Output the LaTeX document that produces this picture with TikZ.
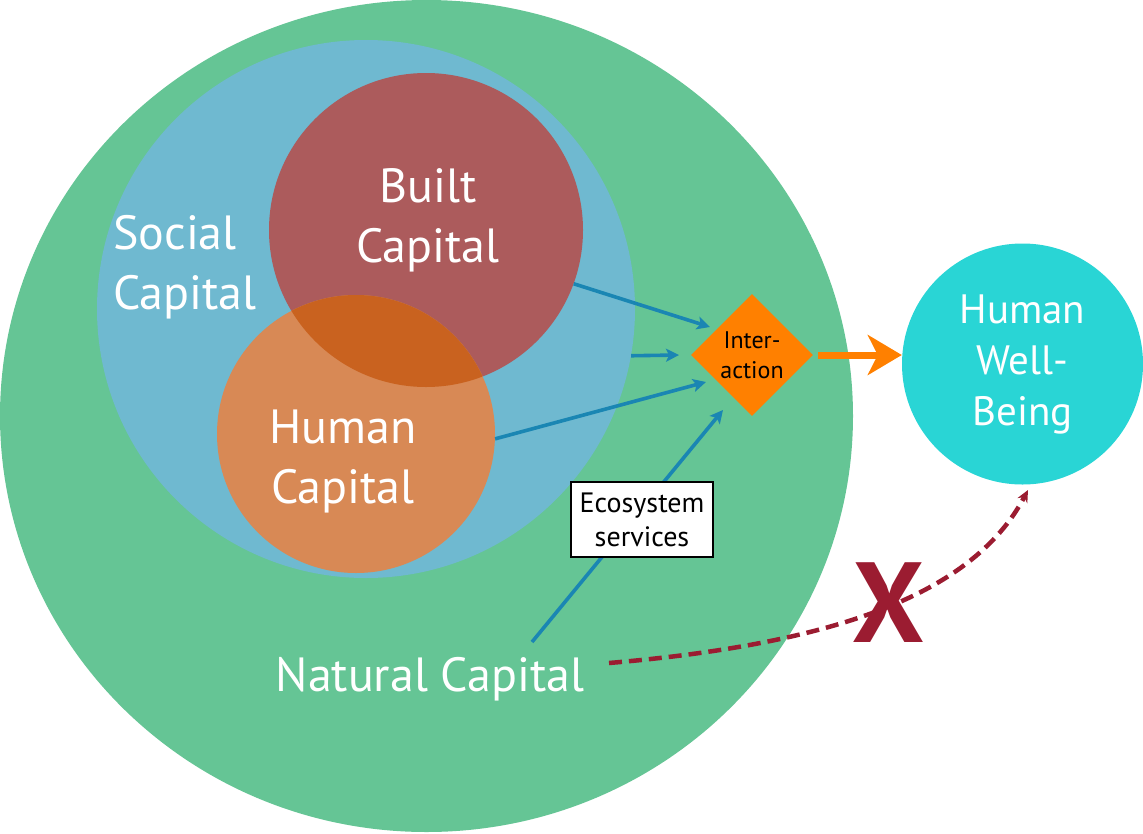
\documentclass[tikz,border=0pt]{standalone}
\usepackage{fontspec}
\setmainfont{PT Sans}
\usetikzlibrary{shapes.geometric,arrows.meta}
\definecolor{natgreen}{HTML}{65C595}
\definecolor{socblue}{HTML}{6FB9D0}
\definecolor{builtred}{HTML}{AC5B5C}
\definecolor{humorange}{HTML}{D88955}
\definecolor{overlapc}{HTML}{C9621F}
\definecolor{interorange}{HTML}{FF8000}
\definecolor{arrowblue}{HTML}{1A86B3}
\definecolor{wbcyan}{HTML}{29D5D5}
\definecolor{xred}{HTML}{9B1C31}
\begin{document}
\begin{tikzpicture}[x=1pt,y=-1pt,
  blob/.style={circle, inner sep=0pt, draw=none},
  biglabel/.style={text=white, font=\fontsize{48}{60}\selectfont, align=center, inner sep=0pt},
  barrow/.style={draw=arrowblue, line width=3.6pt, -{Stealth[length=13pt,width=13pt,inset=3pt]}},
  oarrow/.style={draw=interorange, line width=7pt, -{Stealth[length=34pt,width=40pt,inset=10pt]}},
  darrow/.style={draw=xred, line width=4.5pt, dash pattern=on 13pt off 7pt, -{Stealth[length=12pt,width=11pt]}}
]
\useasboundingbox (0,0) rectangle (1143,833);
% circles
\node[ellipse, fill=natgreen, minimum width=853pt, minimum height=832pt, inner sep=0pt] (natural) at (426.5,416) {};
\node[blob, fill=socblue, minimum size=538pt] (social) at (366,309) {};
\node[blob, fill=builtred, minimum size=314pt] (built) at (426,230) {};
\node[blob, fill=humorange, minimum size=278pt] (human) at (356,434) {};
\begin{scope}
  \clip (426,230) circle (157pt);
  \fill[overlapc] (356,434) circle (139pt);
\end{scope}
% labels
\node[biglabel, align=left, anchor=west] (sociallabel) at (113,267) {Social\\Capital};
\node[biglabel] (builtlabel) at (428,220) {Built\\Capital};
\node[biglabel] (humanlabel) at (343,461) {Human\\Capital};
\node[biglabel, anchor=base] (naturallabel) at (430,691) {Natural Capital};
% interaction and well-being
\node[diamond, aspect=1, fill=interorange, minimum width=122pt, minimum height=122pt, inner sep=0pt,
      font=\fontsize{24}{30}\selectfont, align=center] (inter) at (752,355) {Inter-\\action};
\node[blob, fill=wbcyan, minimum size=241pt, text=white, font=\fontsize{41}{51}\selectfont, align=center] (wellbeing) at (1022.5,364) {Human\\Well-\\Being};
% connector ends
\coordinate (in1) at (710,327);
\coordinate (in2) at (679,355);
\coordinate (in3) at (706,382);
\coordinate (in4) at (723,410);
\coordinate (ns) at (532,642);
\coordinate (ds) at (609,663);
\coordinate (de) at (1028,490);
% blue arrows
\draw[barrow] (built.-20) -- (in1);
\draw[barrow] (social.-10) -- (in2);
\draw[barrow] (human.-2.5) -- (in3);
\draw[barrow] (ns) -- (in4);
\node[draw=black, line width=2pt, fill=white, minimum width=142pt, minimum height=75pt, inner sep=0pt,
      align=center, font=\fontsize{28}{34}\selectfont] (eco) at (642,519.5) {Ecosystem\\services};
% orange arrow
\draw[oarrow] ([xshift=5pt]inter.east) -- (inter.east -| wellbeing.west);
% dashed arrow
\draw[darrow] (ds) .. controls (820,645) and (970,600) .. (de);
\node[text=xred, font=\bfseries\fontsize{114}{114}\selectfont, inner sep=0pt] (xmark) at (889,603) {X};
\end{tikzpicture}
\end{document}
